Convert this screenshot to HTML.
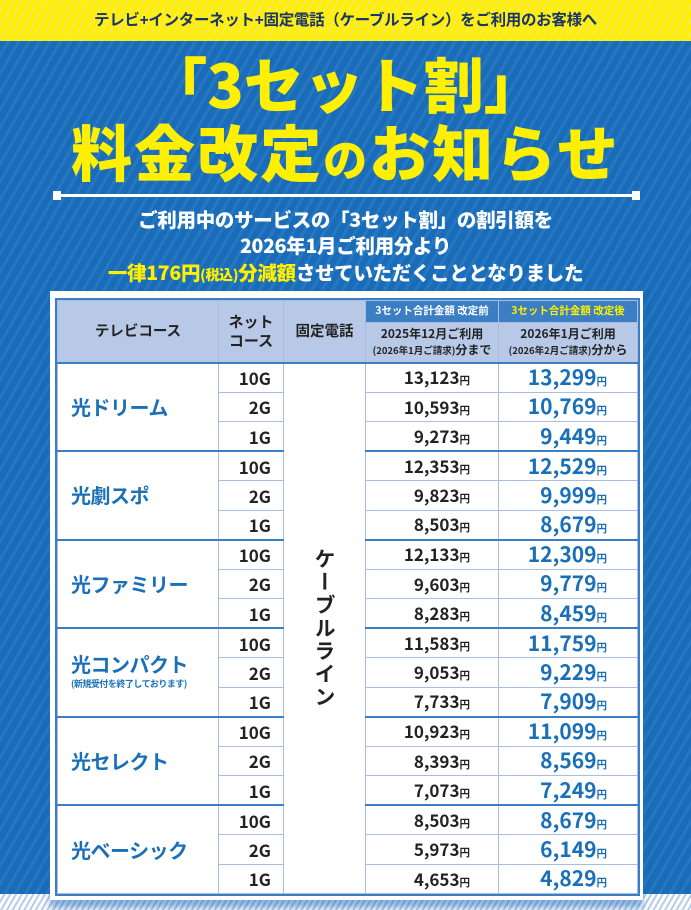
<!DOCTYPE html>
<html><head><meta charset="utf-8">
<style>
*{margin:0;padding:0;box-sizing:border-box}
body{width:691px;height:910px;overflow:hidden;position:relative;font-family:"Liberation Sans","Noto Sans CJK JP",sans-serif;font-weight:bold;background:#fff}
.yel{position:absolute;left:0;top:0;width:691px;height:41px;background:repeating-linear-gradient(120deg,#fff000 0 5px,#f6e85a 5px 7px);text-align:center;font-size:15.5px;line-height:41px;color:#1a3566;letter-spacing:-0.3px}
.blue{position:absolute;left:0;top:41px;width:691px;height:853px;background:repeating-linear-gradient(120deg,#1a6cb8 0 6px,#2478c2 6px 9px)}
.bot{position:absolute;left:0;top:894px;width:691px;height:16px;background:repeating-linear-gradient(120deg,#fff 0 3px,#b7cde9 3px 5px)}
.t1{position:absolute;left:0;width:691px;text-align:center;color:#fff000;font-family:"Noto Sans CJK JP",sans-serif;font-weight:900}
.line{position:absolute;left:55px;top:194px;width:583px;height:3px;background:#fff}
.line:before,.line:after{content:"";position:absolute;top:-3px;width:8px;height:9px;background:#fff}
.line:before{left:-2px}.line:after{right:-2px}
.w{position:absolute;left:0;width:691px;text-align:center;color:#fff;font-size:19.5px;font-family:"Noto Sans CJK JP",sans-serif;font-weight:900;letter-spacing:-0.3px}
.card{position:absolute;left:50px;top:291px;width:593px;height:609px;background:#fff;box-shadow:0 8px 6px rgba(40,110,190,.5)}
table{position:absolute;left:57px;top:300px;width:580px;border-collapse:collapse;table-layout:fixed;font-family:"Noto Sans CJK JP",sans-serif;outline:2px solid #3b7ec3}
td{border:1px solid #a9bde3;padding:0;line-height:1}
.h{background:#b8c9e8;color:#222;text-align:center;font-size:14.5px}
.hb{background:#3b7ec3;color:#fff;font-size:10.5px;text-align:center;height:22px}
.hy{background:#3b7ec3;color:#fff000;font-size:10.5px;text-align:center}
.sm{font-size:12px;line-height:16px}
.sm span{font-size:9.5px}
tr.r td{height:29.5px}
.name{color:#1a70b8;font-size:20px;text-align:left;padding-left:13px;letter-spacing:-0.5px}
.net{text-align:right;padding-right:12px;font-size:17px;color:#222}
.old{text-align:right;padding-right:28px;font-size:17px;color:#222}
.new{text-align:right;padding-right:30px;font-size:21px;color:#1a70b8}
.y{font-size:10.5px}
.g td{border-top:2px solid #3b7ec3}
.cable{text-align:center;vertical-align:middle;font-size:21px;color:#222;writing-mode:vertical-rl;letter-spacing:2px}
</style></head><body>
<div class="yel">テレビ+インターネット+固定電話（ケーブルライン）をご利用のお客様へ</div>
<div class="blue"></div>
<div class="bot"></div>
<div class="t1" style="top:48px;font-size:60px;line-height:70px">「3セット割」</div>
<div class="t1" style="top:114px;font-size:61px;line-height:72px;letter-spacing:2px">料金改定<span style="font-size:44px">の</span>お知らせ</div>
<div class="line"></div>
<div class="w" style="top:205px;line-height:28px">ご利用中のサービスの「3セット割」の割引額を</div>
<div class="w" style="top:231px;line-height:28px">2026年1月ご利用分より</div>
<div class="w" style="top:258px;line-height:28px"><span style="color:#fff000">一律176円<span style="font-size:14px">(税込)</span>分減額</span>させていただくこととなりました</div>
<div class="card"></div>
<table>
<colgroup><col style="width:161px"><col style="width:65px"><col style="width:82px"><col style="width:133px"><col style="width:139px"></colgroup>
<tr><td class="h" rowspan="2">テレビコース</td><td class="h" rowspan="2" style="line-height:19px;font-size:15px">ネット<br>コース</td><td class="h" rowspan="2">固定電話</td><td class="hb">3セット合計金額 改定前</td><td class="hy">3セット合計金額 改定後</td></tr>
<tr><td class="h sm" style="height:40px">2025年12月ご利用<br><span>(2026年1月ご請求)</span>分まで</td><td class="h sm">2026年1月ご利用<br><span>(2026年2月ご請求)</span>分から</td></tr>
<tr class="r g"><td class="name" rowspan="3">光ドリーム</td><td class="net">10G</td><td class="cable" rowspan="18">ケーブルライン</td><td class="old">13,123<span class="y">円</span></td><td class="new">13,299<span class="y">円</span></td></tr>
<tr class="r"><td class="net">2G</td><td class="old">10,593<span class="y">円</span></td><td class="new">10,769<span class="y">円</span></td></tr>
<tr class="r"><td class="net">1G</td><td class="old">9,273<span class="y">円</span></td><td class="new">9,449<span class="y">円</span></td></tr>
<tr class="r g"><td class="name" rowspan="3">光劇スポ</td><td class="net">10G</td><td class="old">12,353<span class="y">円</span></td><td class="new">12,529<span class="y">円</span></td></tr>
<tr class="r"><td class="net">2G</td><td class="old">9,823<span class="y">円</span></td><td class="new">9,999<span class="y">円</span></td></tr>
<tr class="r"><td class="net">1G</td><td class="old">8,503<span class="y">円</span></td><td class="new">8,679<span class="y">円</span></td></tr>
<tr class="r g"><td class="name" rowspan="3">光ファミリー</td><td class="net">10G</td><td class="old">12,133<span class="y">円</span></td><td class="new">12,309<span class="y">円</span></td></tr>
<tr class="r"><td class="net">2G</td><td class="old">9,603<span class="y">円</span></td><td class="new">9,779<span class="y">円</span></td></tr>
<tr class="r"><td class="net">1G</td><td class="old">8,283<span class="y">円</span></td><td class="new">8,459<span class="y">円</span></td></tr>
<tr class="r g"><td class="name" rowspan="3">光コンパクト<div style="font-size:9px;line-height:12px;margin-top:4px">(新規受付を終了しております)</div></td><td class="net">10G</td><td class="old">11,583<span class="y">円</span></td><td class="new">11,759<span class="y">円</span></td></tr>
<tr class="r"><td class="net">2G</td><td class="old">9,053<span class="y">円</span></td><td class="new">9,229<span class="y">円</span></td></tr>
<tr class="r"><td class="net">1G</td><td class="old">7,733<span class="y">円</span></td><td class="new">7,909<span class="y">円</span></td></tr>
<tr class="r g"><td class="name" rowspan="3">光セレクト</td><td class="net">10G</td><td class="old">10,923<span class="y">円</span></td><td class="new">11,099<span class="y">円</span></td></tr>
<tr class="r"><td class="net">2G</td><td class="old">8,393<span class="y">円</span></td><td class="new">8,569<span class="y">円</span></td></tr>
<tr class="r"><td class="net">1G</td><td class="old">7,073<span class="y">円</span></td><td class="new">7,249<span class="y">円</span></td></tr>
<tr class="r g"><td class="name" rowspan="3">光ベーシック</td><td class="net">10G</td><td class="old">8,503<span class="y">円</span></td><td class="new">8,679<span class="y">円</span></td></tr>
<tr class="r"><td class="net">2G</td><td class="old">5,973<span class="y">円</span></td><td class="new">6,149<span class="y">円</span></td></tr>
<tr class="r"><td class="net">1G</td><td class="old">4,653<span class="y">円</span></td><td class="new">4,829<span class="y">円</span></td></tr>
</table>
</body></html>
